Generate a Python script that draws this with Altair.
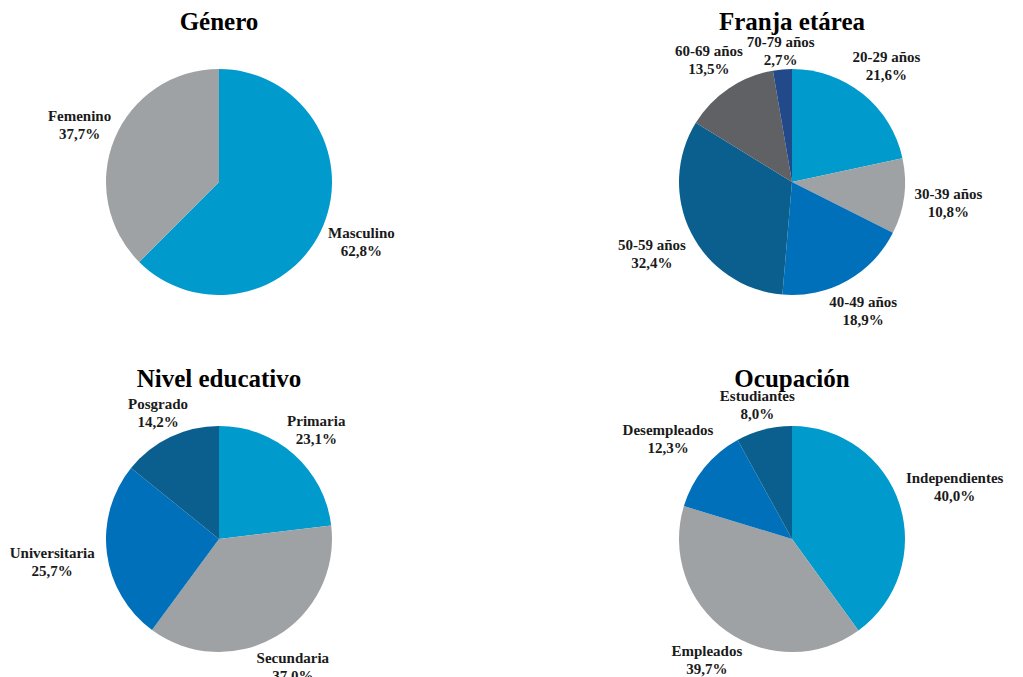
import altair as alt
import pandas as pd

# Data
genero_cat = ["Masculino", "Femenino"]
genero_val = [62.8, 37.7]

franja_cat = ["20-29 años", "30-39 años", "40-49 años", "50-59 años", "60-69 años", "70-79 años"]
franja_val = [21.6, 10.8, 18.9, 32.4, 13.5, 2.7]

nivel_cat = ["Primaria", "Secundaria", "Universitaria", "Posgrado"]
nivel_val = [23.1, 37.0, 25.7, 14.2]

ocup_cat = ["Independientes", "Empleados", "Desempleados", "Estudiantes"]
ocup_val = [40.0, 39.7, 12.3, 8.0]

palette_genero = ["#009acd", "#9ea2a4"]
palette_franja = ["#009acd", "#9ea2a4", "#0070bb", "#0b5f8f", "#5f6164", "#224a8a"]
palette_4 = ["#009acd", "#9ea2a4", "#0070bb", "#0b5f8f"]

FONT = "Liberation Serif"
W, H = 422, 338
R = 113      # pie radius
GAP = 9      # gap between pie edge and label box
CHAR_HALF = 3.5
LINE_HALF = 8


def make_table(cats, vals, colors):
    return pd.DataFrame({
        "cat": cats,
        "val": vals,
        "idx": list(range(len(cats))),
        "color": colors,
        "label": [f"{c}\n{v:.1f}%".replace(".", ",") for c, v in zip(cats, vals)],
    })


def pie(title, cats, vals, colors):
    df = make_table(cats, vals, colors)
    arcs = alt.Chart(df).mark_arc(outerRadius=R).encode(
        theta=alt.Theta("val:Q", stack=True),
        order=alt.Order("idx:Q"),
        color=alt.Color("color:N", scale=None),
    )
    labels = alt.Chart(df).transform_joinaggregate(
        total="sum(val)"
    ).transform_window(
        cum="sum(val)", sort=[alt.SortField("idx")], frame=[None, 0]
    ).transform_calculate(
        mid="(datum.cum - datum.val / 2) / datum.total * 2 * PI",
        lr=f"{R + GAP} + abs(sin(datum.mid)) * length(datum.cat) * {CHAR_HALF}"
           f" + abs(cos(datum.mid)) * {LINE_HALF}",
    ).mark_text(
        font=FONT, fontSize=15, fontWeight="bold",
        lineBreak="\n", align="center", baseline="middle", color="#1a1a1a",
        lineHeight=18, dy=-8,
    ).encode(
        text="label:N",
        theta=alt.Theta("mid:Q", scale=None, stack=False),
        radius=alt.Radius("lr:Q", scale=None),
    )
    return (arcs + labels).resolve_scale(theta="independent").properties(
        width=W, height=H,
        title=alt.TitleParams(title, font=FONT, fontSize=25, fontWeight="bold",
                              anchor="middle", frame="group", color="#000000",
                              offset=-22),
    )


g = pie("Género", genero_cat, genero_val, palette_genero)
f = pie("Franja etárea", franja_cat, franja_val, palette_franja)
n = pie("Nivel educativo", nivel_cat, nivel_val, palette_4)
o = pie("Ocupación", ocup_cat, ocup_val, palette_4)

chart = alt.vconcat(
    alt.hconcat(g, f, spacing=151),
    alt.hconcat(n, o, spacing=151),
    spacing=16,
).properties(
    padding={"top": 2, "left": 0, "right": 0, "bottom": 0}
).configure_view(stroke=None).configure(background="white")

chart.save("out.html", embed_options={"renderer": "svg", "actions": False})
